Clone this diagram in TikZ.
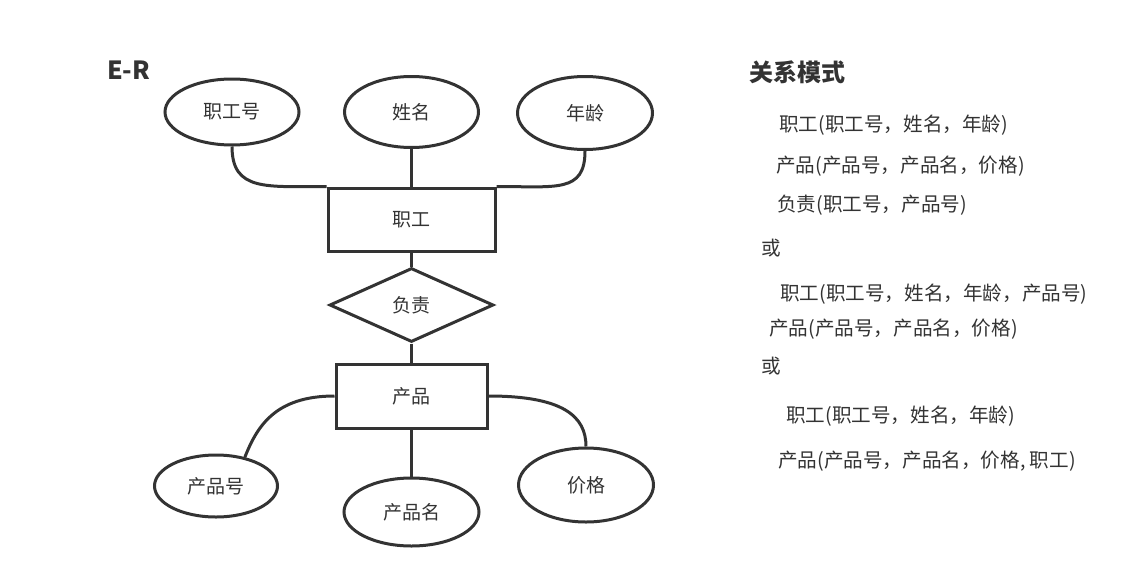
\documentclass[tikz,border=0pt]{standalone}
\usepackage{fontspec}
\setmainfont{Noto Sans CJK SC}
\usetikzlibrary{shapes.geometric}
\definecolor{ink}{HTML}{333333}
\begin{document}
\begin{tikzpicture}[x=1pt,y=-1pt,
  attr/.style={ellipse, draw=ink, fill=white, line width=3pt, inner sep=0pt, text=ink, font=\fontsize{19}{19}\selectfont},
  entity/.style={rectangle, draw=ink, fill=white, line width=3pt, inner sep=0pt, text=ink, font=\fontsize{19}{19}\selectfont},
  rel/.style={diamond, draw=ink, fill=white, line width=3pt, inner sep=0pt, text=ink, font=\fontsize{19}{19}\selectfont},
  link/.style={draw=ink, line width=3pt},
  rtext/.style={anchor=west, inner sep=0pt, text=ink, font=\fontsize{19.6}{20}\selectfont},
  title/.style={anchor=west, inner sep=0pt, text=ink, font=\bfseries\fontsize{24}{24}\selectfont}]
\useasboundingbox (0,0) rectangle (1134,586);
% nodes
\node[title, font=\bfseries\fontsize{25}{25}\selectfont] (er) at (107,70) {E-R};
\node[attr, minimum width=134, minimum height=66] (zgh) at (232,112) {职工号};
\node[attr, minimum width=134, minimum height=71] (xm) at (411.5,112) {姓名};
\node[attr, minimum width=135, minimum height=73] (nl) at (585,113) {年龄};
\node[entity, minimum width=167, minimum height=63] (zg) at (411.5,219.5) {职工};
\node[rel, minimum width=164, minimum height=74] (fz) at (411.5,305) {负责};
\node[entity, minimum width=151, minimum height=64] (cp) at (411.5,396) {产品};
\node[attr, minimum width=123, minimum height=62] (cph) at (216,486) {产品号};
\node[attr, minimum width=135, minimum height=68] (cpm) at (411.5,512) {产品名};
\node[attr, minimum width=135, minimum height=74] (jg) at (586,485) {价格};
% connectors
\draw[link] (zgh.south) .. controls +(0,45) and +(-60,0) .. (zg.north west);
\draw[link] (nl.south) .. controls +(0,42) and +(60,0) .. (zg.north east);
\draw[link] (xm.south) -- (zg.north);
\draw[link] (zg.south) -- (fz.north);
\draw[link] (fz.south) -- (cp.north);
\draw[link] (cp.west) .. controls +(-60,0) and +(12,-30) .. (cph.45);
\draw[link] (cp.east) .. controls +(75,0) and +(0,-30) .. (jg.north);
\draw[link] (cp.south) -- (cpm.north);
% relational schema
\node[title] (t) at (749,72) {关系模式};
\node[rtext] (r1) at (779,125) {职工(职工号，姓名，年龄)};
\node[rtext] (r2) at (776,166) {产品(产品号，产品名，价格)};
\node[rtext] (r3) at (777,205) {负责(职工号，产品号)};
\node[rtext] (o1) at (761,248) {或};
\node[rtext] (r4) at (780,294) {职工(职工号，姓名，年龄，产品号)};
\node[rtext] (r5) at (769,329) {产品(产品号，产品名，价格)};
\node[rtext] (o2) at (761,366) {或};
\node[rtext] (r6) at (786,416) {职工(职工号，姓名，年龄)};
\node[rtext] (r7) at (778,461) {产品(产品号，产品名，价格, 职工)};
\end{tikzpicture}
\end{document}
